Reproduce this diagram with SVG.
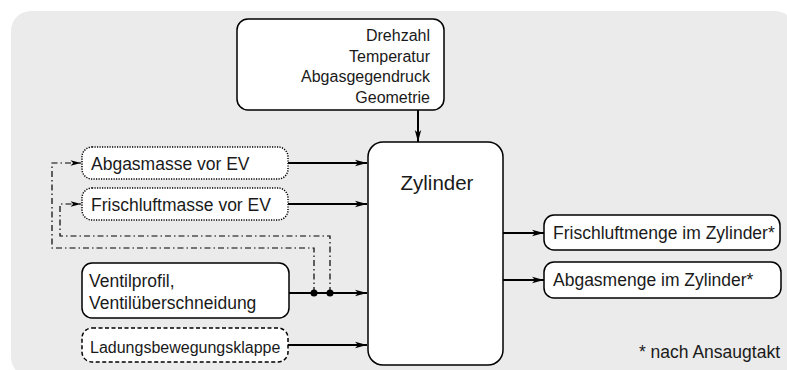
<svg xmlns="http://www.w3.org/2000/svg" width="787" height="370" viewBox="0 0 787 370">
<style>
  .box { fill: #ffffff; stroke: #000000; stroke-width: 1.5; }
  .dotted { stroke-dasharray: 1.2 1.3; }
  .dashed { stroke-dasharray: 4 2.5; }
  .t { font-family: "Liberation Sans", Arial, sans-serif; font-size: 17.5px; fill: #1a1a1a; }
  .t16 { font-family: "Liberation Sans", Arial, sans-serif; font-size: 16px; fill: #1a1a1a; }
  .conn { fill: none; stroke: #000000; stroke-width: 2; }
  .dd { fill: none; stroke: #000000; stroke-width: 1.2; stroke-dasharray: 6 3 1.5 3; }
</style>
<defs>
  <marker id="arr" viewBox="0 0 12 8" refX="12" refY="4" markerWidth="12" markerHeight="8" markerUnits="userSpaceOnUse" orient="auto">
    <path d="M0,0.8 L12,4 L0,7.2 L3,4 Z" fill="#000"/>
  </marker>
  <marker id="arrs" viewBox="0 0 12 8" refX="12" refY="4" markerWidth="11" markerHeight="7" markerUnits="userSpaceOnUse" orient="auto">
    <path d="M0,0.8 L12,4 L0,7.2 L3,4 Z" fill="#000"/>
  </marker>
</defs>
<rect x="11" y="11" width="784" height="366" rx="20" fill="#ebebeb"/>

<g id="connectors">
  <line class="conn" x1="418" y1="110" x2="418" y2="142" marker-end="url(#arr)"/>
  <line class="conn" x1="288" y1="163" x2="367" y2="163" marker-end="url(#arr)"/>
  <line class="conn" x1="288" y1="204" x2="367" y2="204" marker-end="url(#arr)"/>
  <line class="conn" x1="289" y1="293" x2="367" y2="293" marker-end="url(#arr)"/>
  <line class="conn" x1="288" y1="345" x2="367" y2="345" marker-end="url(#arr)"/>
  <line class="conn" x1="503" y1="233" x2="544" y2="233" marker-end="url(#arr)"/>
  <line class="conn" x1="503" y1="280" x2="544" y2="280" marker-end="url(#arr)"/>
  <path class="dd" d="M314,293 V248 H52 V163 H81" marker-end="url(#arrs)"/>
  <path class="dd" d="M330,293 V236 H60 V204 H81" marker-end="url(#arrs)"/>
  <circle cx="314" cy="293" r="3.5" fill="#000"/>
  <circle cx="330" cy="293" r="3.5" fill="#000"/>
</g>

<g id="params">
  <rect class="box" x="237" y="19" width="207" height="91" rx="11"/>
  <text class="t16" x="430" y="41" text-anchor="end">Drehzahl</text>
  <text class="t16" x="430" y="61.5" text-anchor="end">Temperatur</text>
  <text class="t16" x="430" y="82" text-anchor="end">Abgasgegendruck</text>
  <text class="t16" x="430" y="103" text-anchor="end">Geometrie</text>
</g>

<g id="zylinder">
  <rect class="box" x="368" y="142" width="135" height="223" rx="15"/>
  <text class="t" x="437" y="190" text-anchor="middle" style="font-size:20.5px">Zylinder</text>
</g>

<g id="abgasmasse">
  <rect class="box dotted" x="82" y="147" width="206" height="32" rx="10"/>
  <text class="t" x="91" y="169.5">Abgasmasse vor EV</text>
</g>

<g id="frischluftmasse">
  <rect class="box dotted" x="82" y="188" width="206" height="32" rx="10"/>
  <text class="t" x="91" y="210.5">Frischluftmasse vor EV</text>
</g>

<g id="ventil">
  <rect class="box" x="82" y="263" width="207" height="55" rx="10"/>
  <text class="t" x="89" y="287">Ventilprofil,</text>
  <text class="t" x="89" y="308.5">Ventilüberschneidung</text>
</g>

<g id="ladung">
  <rect class="box dashed" x="82" y="328" width="206" height="34" rx="10"/>
  <text class="t16" x="90" y="353">Ladungsbewegungsklappe</text>
</g>

<g id="frischluftmenge">
  <rect class="box" x="544" y="215" width="236" height="35" rx="10"/>
  <text class="t" x="553" y="239">Frischluftmenge im Zylinder*</text>
</g>

<g id="abgasmenge">
  <rect class="box" x="544" y="262" width="237" height="36" rx="10"/>
  <text class="t" x="553" y="286">Abgasmenge im Zylinder*</text>
</g>

<g id="note">
  <text class="t" x="780" y="358" text-anchor="end">* nach Ansaugtakt</text>
</g>
</svg>
